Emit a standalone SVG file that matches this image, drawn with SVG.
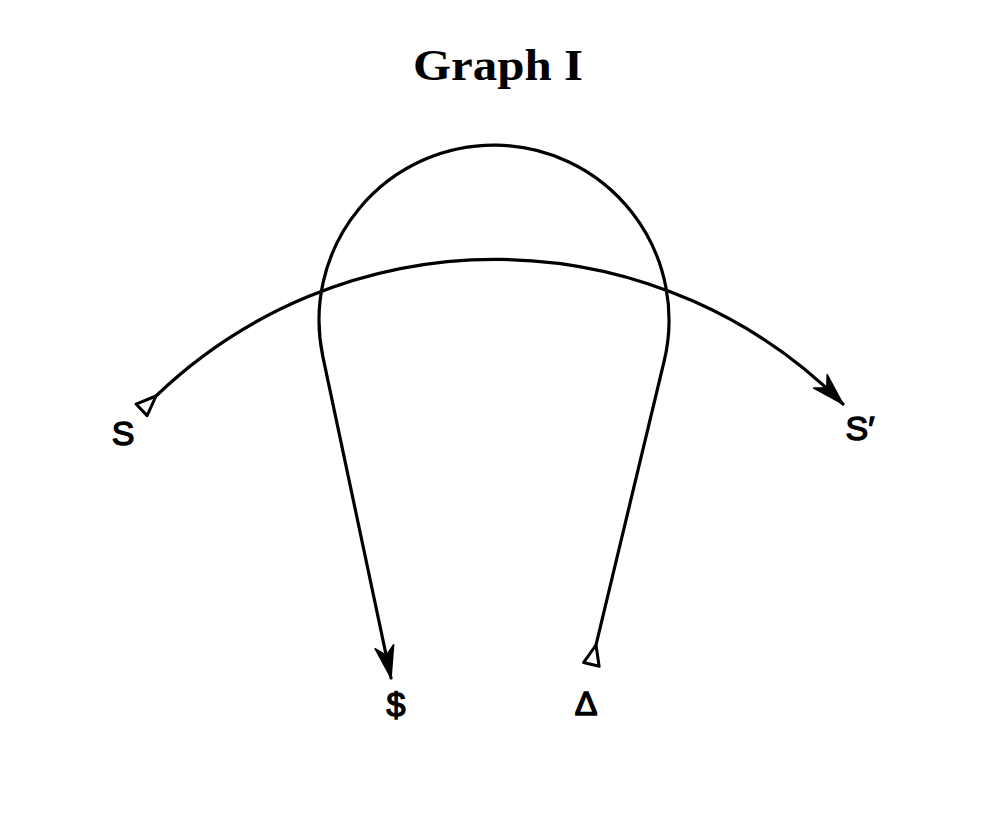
<svg xmlns="http://www.w3.org/2000/svg" width="997" height="815" viewBox="0 0 997 815">
<style>
.ln{fill:none;stroke:#000;stroke-width:3.2;stroke-linecap:round;stroke-linejoin:round}
.lbl{font-family:"Liberation Sans","DejaVu Sans",sans-serif;font-size:34px;fill:#000;stroke:#000;stroke-width:1.4;text-anchor:middle}
.title{font-family:"Liberation Serif","DejaVu Serif",serif;font-weight:bold;font-size:44px;fill:#000;text-anchor:middle}
</style>
<defs>
<marker id="arrow" markerUnits="userSpaceOnUse" markerWidth="40" markerHeight="26" viewBox="-34 -13 40 26" refX="0" refY="0" orient="auto">
<path d="M0,0 L-32,-9.5 L-23,0 L-32,9.5 Z" fill="#000" stroke="#000" stroke-width="1.5" stroke-linejoin="round"/>
</marker>
<marker id="tri" markerUnits="userSpaceOnUse" markerWidth="30" markerHeight="26" viewBox="-25 -13 30 26" refX="0" refY="0" orient="auto">
<path d="M0,0 L-20,-8 L-20,8 Z" fill="#fff" stroke="#000" stroke-width="3" stroke-linejoin="round"/>
</marker>
</defs>
<rect width="997" height="815" fill="#fff"/>
<text class="title" x="498" y="80" textLength="170" lengthAdjust="spacingAndGlyphs">Graph I</text>
<g id="connectors">
<path id="signifier-vector" class="ln" d="M 156 396 A 490 490 0 0 1 843 404" marker-start="url(#tri)" marker-end="url(#arrow)"/>
<path id="intention-vector" class="ln" d="M 596 645 L 664.2 360.9 A 175 175 0 1 0 322.7 355.8 L 391 678" marker-start="url(#tri)" marker-end="url(#arrow)"/>
</g>
<g id="node-S"><text class="lbl" x="123" y="445">S</text></g>
<g id="node-S-prime"><text class="lbl" x="860" y="440">S′</text></g>
<g id="node-barred-S"><text class="lbl" x="396" y="716">$</text></g>
<g id="node-delta"><text class="lbl" x="586" y="715">Δ</text></g>
</svg>
